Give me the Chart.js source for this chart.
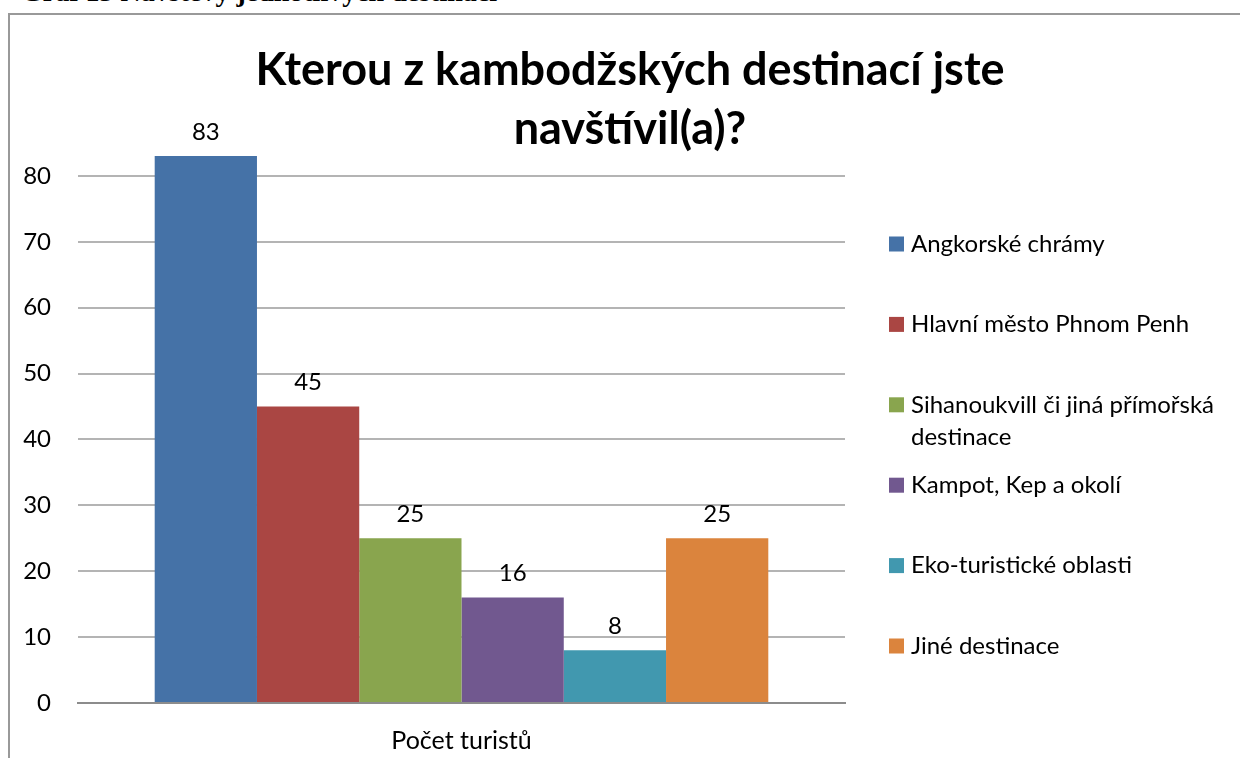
<!DOCTYPE html>
<html>
<head>
<meta charset="utf-8">
<script src="https://cdn.jsdelivr.net/npm/chart.js@4"></script>
<style>
  html, body { margin: 0; padding: 0; background: #fff; overflow: hidden; }
  body { width: 1240px; height: 758px; position: relative; }
  .caption {
    position: absolute; left: 21px; top: -22px;
    font: bold 28px "Liberation Serif", serif; line-height: 1; color: #000;
    white-space: nowrap;
  }
  .frame {
    position: absolute; left: 8px; top: 13px; width: 1300px; height: 800px;
    border: 2px solid #999;
  }
  #chart { position: absolute; left: 0; top: 0; }
</style>
</head>
<body>
<div class="caption">Graf 13 Návštěvy jednotlivých destinací</div>
<div class="frame"></div>
<canvas id="chart" width="1240" height="758"></canvas>
<script>
// Data
var categories = ['Počet turistů'];
var destinations = [
	'Angkorské chrámy',
	'Hlavní město Phnom Penh',
	'Sihanoukvill či jiná přímořská destinace',
	'Kampot, Kep a okolí',
	'Eko-turistické oblasti',
	'Jiné destinace'
];
var visits = [83, 45, 25, 16, 8, 25];
var colors = ['#4572A7', '#AA4643', '#89A54E', '#71588F', '#4198AF', '#DB843D'];
var titleLines = ['Kterou z kambodžských destinací jste', 'navštívil(a)?'];

var FONT = 'Lato, "Open Sans", sans-serif';

// Value labels above each bar
var valueLabels = {
	id: 'valueLabels',
	afterDatasetsDraw: function(chart) {
		var ctx = chart.ctx;
		ctx.save();
		ctx.font = '24px ' + FONT;
		ctx.fillStyle = '#000';
		ctx.textAlign = 'center';
		ctx.textBaseline = 'middle';
		chart.data.datasets.forEach(function(ds, i) {
			var bar = chart.getDatasetMeta(i).data[0];
			ctx.fillText(ds.data[0], bar.x, bar.y - 24);
		});
		ctx.restore();
	}
};

// Title drawn over the plot, like the original
var overlayTitle = {
	id: 'overlayTitle',
	afterDraw: function(chart) {
		var ctx = chart.ctx;
		ctx.save();
		ctx.font = 'bold 45px ' + FONT;
		ctx.fillStyle = '#000';
		ctx.textAlign = 'center';
		ctx.textBaseline = 'middle';
		titleLines.forEach(function(line, i) {
			ctx.fillText(line, 630, 70 + i * 59);
		});
		ctx.restore();
	}
};

// Legend on the right, wrapping long names
var sideLegend = {
	id: 'sideLegend',
	afterDraw: function(chart) {
		var ctx = chart.ctx;
		var maxW = 325;
		ctx.save();
		ctx.font = '24px ' + FONT;
		ctx.textBaseline = 'middle';
		ctx.textAlign = 'left';
		chart.data.datasets.forEach(function(ds, i) {
			var y = 244 + i * 80.4;
			ctx.fillStyle = ds.backgroundColor;
			ctx.fillRect(889, y - 7.5, 15, 15);
			ctx.fillStyle = '#000';
			var words = ds.label.split(' ');
			var line = '';
			var lines = [];
			words.forEach(function(w) {
				var test = line ? line + ' ' + w : w;
				if (ctx.measureText(test).width > maxW && line) {
					lines.push(line);
					line = w;
				} else {
					line = test;
				}
			});
			lines.push(line);
			lines.forEach(function(l, j) {
				ctx.fillText(l, 911, y + j * 32);
			});
		});
		ctx.restore();
	}
};

var datasets = destinations.map(function(name, i) {
	return {
		label: name,
		data: [visits[i]],
		backgroundColor: colors[i],
		borderWidth: 0,
		categoryPercentage: 0.8,
		barPercentage: 1
	};
});

new Chart(document.getElementById('chart').getContext('2d'), {
	type: 'bar',
	data: {
		labels: categories,
		datasets: datasets
	},
	options: {
		responsive: false,
		animation: false,
		layout: {
			padding: { top: 110, right: 395, bottom: 0, left: 0 }
		},
		plugins: {
			legend: { display: false },
			title: { display: false },
			tooltip: { enabled: false }
		},
		scales: {
			x: {
				grid: { display: false },
				border: { display: true, color: '#8c8c8c', width: 2 },
				ticks: {
					color: '#000',
					font: { family: FONT, size: 25 },
					padding: 15
				},
				afterFit: function(scale) { scale.height = 55; }
			},
			y: {
				min: 0,
				max: 90,
				ticks: {
					stepSize: 10,
					color: '#000',
					font: { family: FONT, size: 24 },
					padding: 27,
					callback: function(v) { return v === 90 ? '' : v; }
				},
				grid: {
					drawTicks: false,
					lineWidth: 2,
					color: function(c) {
						if (c.tick && c.tick.value === 90) return 'rgba(0,0,0,0)';
						return c.tick && c.tick.value === 0 ? '#8c8c8c' : '#b4b4b4';
					}
				},
				border: { display: false },
				afterFit: function(scale) { scale.width = 78; }
			}
		}
	},
	plugins: [valueLabels, overlayTitle, sideLegend]
});
</script>
</body>
</html>
